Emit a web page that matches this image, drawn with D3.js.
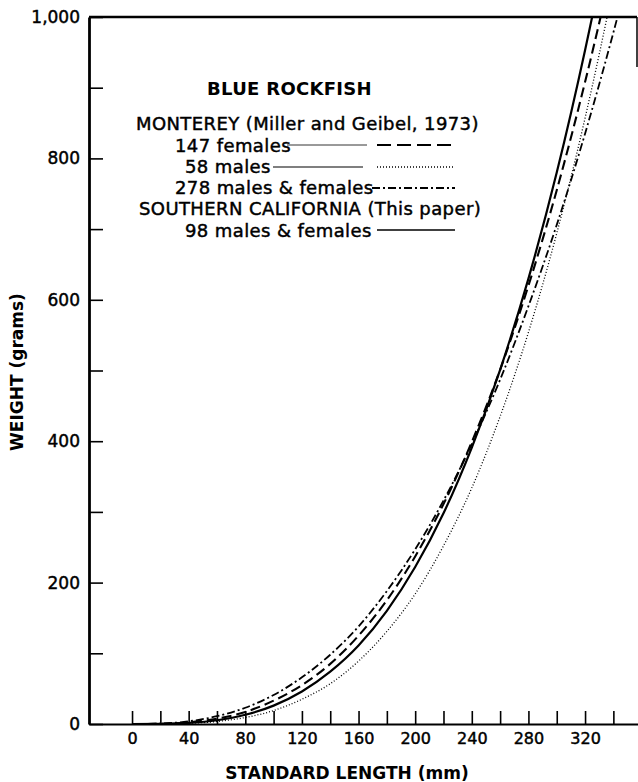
<!DOCTYPE html>
<html>
<head>
<meta charset="utf-8">
<script src="https://cdn.jsdelivr.net/npm/d3@7"></script>
<style>
    body { margin: 0; background: #fff; }
    svg { display: block; }
    text { font-family: "DejaVu Sans", sans-serif; fill: #000; }
</style>
</head>
<body>
<svg id="chart"></svg>
<script>
const lengths = [0, 20, 40, 60, 80, 100, 120, 140, 160, 180, 200, 220, 240, 260, 280, 300, 320, 340, 360]
// weight (g)
const socal98 = [0, 0.2, 1.5, 5.3, 13, 26, 46, 74, 111, 160, 222, 298, 391, 501, 630, 780, 953, 1150, 1373]
const females147 = [0, 0.3, 2.4, 7.6, 17, 33, 55, 85, 125, 175, 237, 311, 399, 501, 620, 755, 908, 1080, 1272]
const males58 = [0, 0.1, 1.0, 3.6, 9.2, 19, 35, 57, 89, 131, 184, 252, 334, 435, 554, 694, 857, 1044, 1259]
const mixed278 = [0, 0.6, 3.8, 11, 23, 41, 66, 98, 138, 188, 247, 316, 396, 487, 591, 706, 835, 978, 1134]

const xTicks = [0, 20, 40, 60, 80, 100, 120, 140, 160, 180, 200, 220, 240, 260, 280, 300, 320, 340]
const xLabels = [0, 40, 80, 120, 160, 200, 240, 280, 320]
const yTicks = [0, 100, 200, 300, 400, 500, 600, 700, 800, 900, 1000]
const yLabels = [0, 200, 400, 600, 800, 1000]

const chart = { width: 638, height: 782 }
const plot = { left: 89, right: 638, top: 17, bottom: 724 }

const styles = {
    solid: { dash: null, width: 2.2 },
    dashed: { dash: "10 5", width: 2.1 },
    dotted: { dash: "1 2", width: 1.3 },
    dashdot: { dash: "8 3 2 3", width: 1.8 }
}

const series = [
    { values: socal98, style: styles.solid },
    { values: females147, style: styles.dashed },
    { values: males58, style: styles.dotted },
    { values: mixed278, style: styles.dashdot }
]

const svg = d3.select("#chart")
    .attr("width", chart.width)
    .attr("height", chart.height)

const x = d3.scaleLinear()
    .domain([-30.4, 357.4])
    .range([plot.left, plot.right])

const y = d3.scaleLinear()
    .domain([0, 1000])
    .range([plot.bottom, plot.top])

// clip curves to the plotting frame
svg.append("clipPath")
    .attr("id", "plotClip")
    .append("rect")
    .attr("x", plot.left)
    .attr("y", plot.top)
    .attr("width", plot.right - plot.left)
    .attr("height", plot.bottom - plot.top)

const line = d3.line()
    .x((d, i) => x(lengths[i]))
    .y(d => y(d))
    .curve(d3.curveMonotoneX)

svg.append("g")
    .attr("clip-path", "url(#plotClip)")
    .selectAll("path")
    .data(series)
    .enter()
    .append("path")
    .attr("fill", "none")
    .attr("stroke", "#000")
    .attr("stroke-width", d => d.style.width)
    .attr("stroke-dasharray", d => d.style.dash)
    .attr("d", d => line(d.values))

// axes
const xAxis = d3.axisBottom(x)
    .tickValues(xTicks)
    .tickSize(-13)
    .tickSizeOuter(0)
    .tickPadding(9)
    .tickFormat(d => xLabels.includes(d) ? d : "")

const yAxis = d3.axisLeft(y)
    .tickValues(yTicks)
    .tickSize(-14)
    .tickSizeOuter(0)
    .tickPadding(9)
    .tickFormat(d => yLabels.includes(d) ? d3.format(",")(d) : "")

const gx = svg.append("g")
    .attr("transform", "translate(0," + plot.bottom + ")")
    .call(xAxis)

const gy = svg.append("g")
    .attr("transform", "translate(" + plot.left + ",0)")
    .call(yAxis)

gx.select(".domain").attr("stroke-width", 2.2)
gy.select(".domain").attr("stroke-width", 2.8)
svg.selectAll(".tick line").attr("stroke-width", 1.6)
svg.selectAll(".tick text")
    .attr("font-family", "DejaVu Sans")
    .attr("stroke", "#000")
    .attr("stroke-width", 0.45)
gx.selectAll(".tick text").attr("font-size", 16)
gy.selectAll(".tick text").attr("font-size", 17)

// top frame and the bit of right edge that shows
svg.append("line")
    .attr("x1", plot.left).attr("x2", 637)
    .attr("y1", plot.top).attr("y2", plot.top)
    .attr("stroke", "#000").attr("stroke-width", 2.4)
svg.append("line")
    .attr("x1", 637).attr("x2", 637)
    .attr("y1", plot.top).attr("y2", 67)
    .attr("stroke", "#000").attr("stroke-width", 1.5)

// axis titles
svg.append("text")
    .attr("x", 347)
    .attr("y", 779)
    .attr("text-anchor", "middle")
    .attr("font-size", 17)
    .attr("font-weight", "bold")
    .text("STANDARD LENGTH (mm)")

svg.append("text")
    .attr("transform", "translate(23,372) rotate(-90)")
    .attr("text-anchor", "middle")
    .attr("font-size", 17)
    .attr("font-weight", "bold")
    .text("WEIGHT (grams)")

// legend
const legendText = [
    { t: "BLUE ROCKFISH", x: 207, y: 95, bold: true },
    { t: "MONTEREY (Miller and Geibel, 1973)", x: 136, y: 130 },
    { t: "147 females", x: 175, y: 152 },
    { t: "58 males", x: 185, y: 173 },
    { t: "278 males & females", x: 175, y: 194 },
    { t: "SOUTHERN CALIFORNIA (This paper)", x: 139, y: 215 },
    { t: "98 males & females", x: 185, y: 237 }
]

svg.append("g")
    .selectAll("text")
    .data(legendText)
    .enter()
    .append("text")
    .attr("x", d => d.x)
    .attr("y", d => d.y)
    .attr("font-size", 18)
    .attr("font-weight", d => d.bold ? "bold" : "normal")
    .attr("letter-spacing", d => d.bold ? 0.3 : 0.4)
    .attr("stroke", "#000")
    .attr("stroke-width", d => d.bold ? 0 : 0.45)
    .text(d => d.t)

const legendLines = [
    { x1: 287, x2: 367, y: 145, style: { dash: null, width: 0.8 } },
    { x1: 377, x2: 455, y: 145, style: { dash: "14 6", width: 2 } },
    { x1: 273, x2: 363, y: 167, style: { dash: null, width: 1.2 } },
    { x1: 377, x2: 455, y: 167, style: styles.dotted },
    { x1: 372, x2: 455, y: 188, style: styles.dashdot },
    { x1: 377, x2: 455, y: 230, style: { dash: null, width: 1.3 } }
]

svg.append("g")
    .selectAll("line")
    .data(legendLines)
    .enter()
    .append("line")
    .attr("x1", d => d.x1)
    .attr("x2", d => d.x2)
    .attr("y1", d => d.y)
    .attr("y2", d => d.y)
    .attr("stroke", "#000")
    .attr("stroke-width", d => d.style.width)
    .attr("stroke-dasharray", d => d.style.dash)
</script>
</body>
</html>
